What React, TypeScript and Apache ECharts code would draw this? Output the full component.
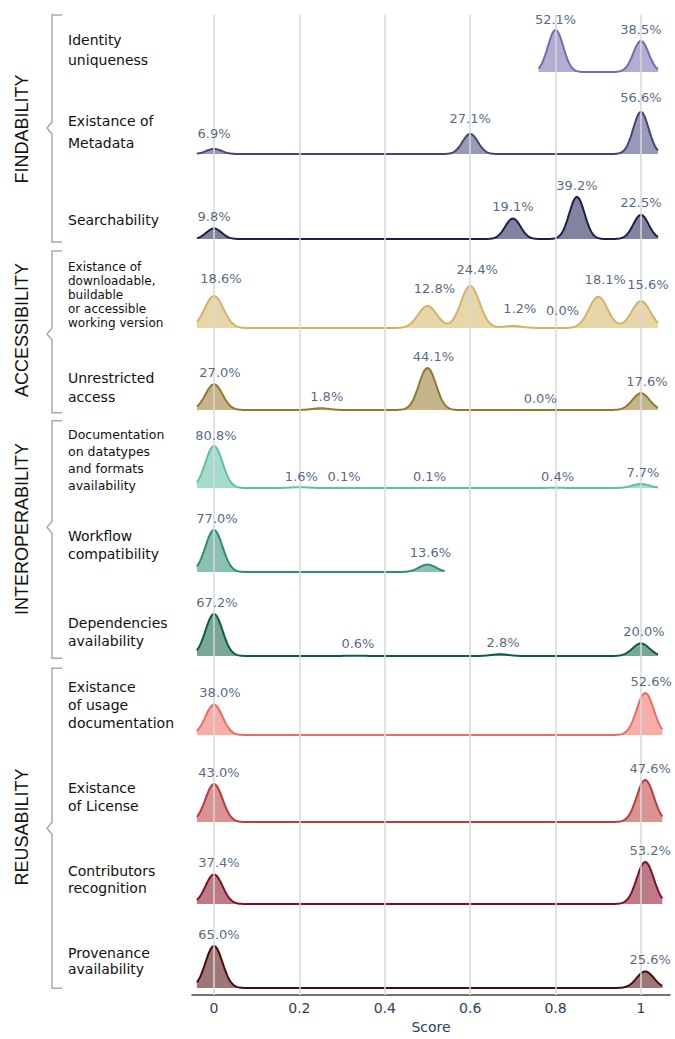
import React, { useEffect, useRef } from "react";
import * as echarts from "echarts";

// ---------------- DATA ----------------
const categories = [
  "Identity\nuniqueness",
  "Existance of\nMetadata",
  "Searchability",
  "Existance of\ndownloadable,\nbuildable\nor accessible\nworking version",
  "Unrestricted\naccess",
  "Documentation\non datatypes\nand formats\navailability",
  "Workflow\ncompatibility",
  "Dependencies\navailability",
  "Existance\nof usage\ndocumentation",
  "Existance\nof License",
  "Contributors\nrecognition",
  "Provenance\navailability",
];
const groupNames = ["FINDABILITY", "ACCESSIBILITY", "INTEROPERABILITY", "REUSABILITY"];
const groupSizes = [3, 2, 3, 4];

// score levels of each criterion and the share of items at each level (%)
const scoreLevels = [
  [0.8, 1.0],
  [0, 0.6, 1.0],
  [0, 0.7, 0.85, 1.0],
  [0, 0.5, 0.6, 0.7, 0.8, 0.9, 1.0],
  [0, 0.25, 0.5, 0.75, 1.0],
  [0, 0.2, 0.3, 0.5, 0.8, 1.0],
  [0, 0.5],
  [0, 0.33, 0.67, 1.0],
  [0, 1.01],
  [0, 1.01],
  [0, 1.01],
  [0, 1.01],
];
const sharePercents = [
  [52.1, 38.5],
  [6.9, 27.1, 56.6],
  [9.8, 19.1, 39.2, 22.5],
  [18.6, 12.8, 24.4, 1.2, 0.0, 18.1, 15.6],
  [27.0, 1.8, 44.1, 0.0, 17.6],
  [80.8, 1.6, 0.1, 0.1, 0.4, 7.7],
  [77.0, 13.6],
  [67.2, 0.6, 2.8, 20.0],
  [38.0, 52.6],
  [43.0, 47.6],
  [37.4, 53.2],
  [65.0, 25.6],
];
// kernel bandwidth of each density
const bandwidths = [0.018, 0.018, 0.018, 0.022, 0.02, 0.02, 0.02, 0.02, 0.02, 0.02, 0.02, 0.02];
const tickValues = [0, 0.2, 0.4, 0.6, 0.8, 1];
const xAxisTitle = "Score";

// ---------------- STYLE / LAYOUT ----------------
const lineColors = [
  "#726cae", "#45457e", "#1b1e4f",
  "#d3b464", "#94782e",
  "#5cc0a5", "#2b8e74", "#0b5c45",
  "#ee6b63", "#bb3a3b", "#860d24", "#4d0808",
];
const baselines = [72, 154, 239, 328, 410, 488, 572, 656, 735, 822, 904, 988];
const ridgeHeight = 42;
const labelCenters = [49.5, 132, 220, 295, 387.5, 460, 545, 632, 705, 797, 879.5, 961];
const labelFontSizes = [14, 14, 14, 12, 14, 12.5, 14, 14, 14, 14, 14, 14];
const labelLineHeights = [20, 22, 20, 14.2, 19, 17.3, 18, 17.4, 17.7, 17.7, 17.6, 15.7];
const pctOffsetX = [0, 0, 0, 7, 6, 2, 3, 3, 6, 5, 5, 5];
const pctDistance = [4, 8, 5, 10, 5, 4, 5, 5, 5, 5, 5, 5];
const brackets = [
  [15, 128, 242],
  [251, 334, 412.7],
  [420.7, 527.3, 658.3],
  [668.3, 828.3, 988.3],
];
const groupCenters = [129, 330, 529, 827];

const PLOT_LEFT = 192;
const PLOT_WIDTH = 478;
const PLOT_TOP = 15;
const AXIS_Y = 997.7;
const X_MIN = -0.0515;
const X_MAX = 1.068;

function density(x: number, s: number[], p: number[], bw: number) {
  let d = 0;
  for (let i = 0; i < s.length; i++) {
    const z = (x - s[i]) / bw;
    d += p[i] * Math.exp(-0.5 * z * z);
  }
  return d;
}

function buildOption() {
  const grid: any[] = [
    { left: PLOT_LEFT, width: PLOT_WIDTH, top: PLOT_TOP, height: AXIS_Y - PLOT_TOP },
  ];
  const xAxis: any[] = [
    {
      gridIndex: 0,
      type: "value",
      min: X_MIN,
      max: X_MAX,
      axisLine: { show: true, lineStyle: { color: "#444", width: 1.5 } },
      axisTick: { show: false },
      splitLine: { show: false },
      axisLabel: {
        customValues: tickValues,
        formatter: (v: number) => String(v),
        color: "#2a3f5f",
        fontSize: 14,
        fontFamily: "DejaVu Sans",
        margin: 6,
      },
      name: xAxisTitle,
      nameLocation: "middle",
      nameGap: 25,
      nameTextStyle: { color: "#2a3f5f", fontSize: 14, fontFamily: "DejaVu Sans" },
    },
  ];
  const yAxis: any[] = [{ gridIndex: 0, type: "value", min: 0, max: 1, show: false }];
  const series: any[] = [
    {
      type: "line",
      xAxisIndex: 0,
      yAxisIndex: 0,
      data: [],
      silent: true,
      z: 1,
      markLine: {
        silent: true,
        symbol: ["none", "none"],
        label: { show: false },
        lineStyle: { color: "#d9d9d9", width: 1.5, type: "solid" },
        data: tickValues.map((v) => ({ xAxis: v })),
      },
    },
  ];

  categories.forEach((cat, i) => {
    const s = scoreLevels[i];
    const p = sharePercents[i];
    const bw = bandwidths[i];
    const start = Math.min(...s) - 0.04;
    const end = Math.max(...s) + 0.04;
    const pts: number[][] = [];
    let maxD = 0;
    const n = Math.round((end - start) / 0.002);
    for (let k = 0; k <= n; k++) {
      const x = start + ((end - start) * k) / n;
      const d = density(x, s, p, bw);
      if (d > maxD) maxD = d;
      pts.push([x, d]);
    }
    const gi = i + 1;
    grid.push({
      left: PLOT_LEFT,
      width: PLOT_WIDTH,
      top: baselines[i] - ridgeHeight,
      height: ridgeHeight,
    });
    xAxis.push({ gridIndex: gi, type: "value", min: X_MIN, max: X_MAX, show: false });
    yAxis.push({ gridIndex: gi, type: "value", min: 0, max: maxD, show: false });
    series.push({
      type: "line",
      name: cat,
      xAxisIndex: gi,
      yAxisIndex: gi,
      data: pts,
      showSymbol: false,
      clip: false,
      silent: true,
      z: 3,
      lineStyle: { color: lineColors[i], width: 2 },
      areaStyle: { color: lineColors[i], opacity: 0.55 },
    });
    series.push({
      type: "scatter",
      xAxisIndex: gi,
      yAxisIndex: gi,
      data: s.map((x, j) => [x, density(x, s, p, bw), p[j]]),
      symbolSize: 1,
      itemStyle: { color: "transparent" },
      clip: false,
      silent: true,
      z: 10,
      label: {
        show: true,
        position: "top",
        distance: pctDistance[i],
        offset: [pctOffsetX[i], 0],
        formatter: (q: any) => q.value[2].toFixed(1) + "%",
        color: "#2a3f5f",
        fontSize: 13,
        fontFamily: "DejaVu Sans",
      },
    });
  });

  const graphic: any[] = [];
  categories.forEach((cat, i) => {
    graphic.push({
      type: "text",
      x: 68,
      y: labelCenters[i],
      silent: true,
      style: {
        text: cat,
        fill: "#111",
        fontSize: labelFontSizes[i],
        fontFamily: "DejaVu Sans",
        lineHeight: labelLineHeights[i],
        align: "left",
        verticalAlign: "middle",
      },
    });
  });
  groupNames.forEach((g, i) => {
    const [t, m, b] = brackets[i];
    graphic.push({
      type: "polyline",
      silent: true,
      shape: {
        points: [
          [62, t],
          [52, t],
          [52, m - 6],
          [47, m],
          [52, m + 6],
          [52, b],
          [62, b],
        ],
      },
      style: { stroke: "#aaaaaa", lineWidth: 1.5, fill: "none" },
    });
    graphic.push({
      type: "text",
      x: 22,
      y: groupCenters[i],
      rotation: Math.PI / 2,
      silent: true,
      style: {
        text: g,
        fill: "#111",
        fontSize: 18,
        fontFamily: "Liberation Sans",
        align: "center",
        verticalAlign: "middle",
      },
    });
  });

  return {
    animation: false,
    backgroundColor: "#ffffff",
    grid,
    xAxis,
    yAxis,
    series,
    graphic,
  };
}

export default function App() {
  const ref = useRef<HTMLDivElement>(null);
  useEffect(() => {
    if (!ref.current) return;
    const chart = echarts.init(ref.current, undefined, { renderer: "svg" });
    chart.setOption(buildOption() as any);
    return () => chart.dispose();
  }, []);
  return (
    <div
      ref={ref}
      style={{ position: "absolute", left: 0, top: 0, width: 675, height: 1039, background: "#fff" }}
    />
  );
}
